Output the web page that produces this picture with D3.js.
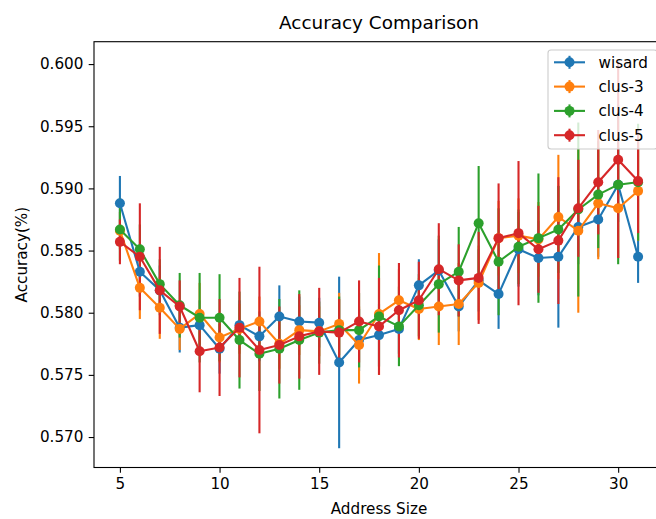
<!DOCTYPE html>
<html>
<head>
<meta charset="utf-8">
<script src="https://cdn.jsdelivr.net/npm/d3@7"></script>
<style>
  html, body { margin: 0; padding: 0; background: #ffffff; }
  svg { display: block; font-family: "DejaVu Sans", sans-serif; }
</style>
</head>
<body>
<svg id="chart" width="656" height="519"></svg>
<script>
// Address sizes on the x axis
const addressSizes = [5, 6, 7, 8, 9, 10, 11, 12, 13, 14, 15, 16, 17, 18, 19, 20,
                      21, 22, 23, 24, 25, 26, 27, 28, 29, 30, 31];

// Mean accuracy and standard deviation per model
const wisardMean = [0.5888, 0.5833, 0.5818, 0.5788, 0.5790, 0.5771, 0.5790, 0.5781, 0.5797,
                    0.5793, 0.5792, 0.5760, 0.5778, 0.5782, 0.5787, 0.5822, 0.5834, 0.5805,
                    0.5826, 0.5815, 0.5851, 0.5844, 0.5845, 0.5869, 0.5875, 0.5903, 0.5845];
const wisardErr  = [0.0022, 0.0020, 0.0020, 0.0020, 0.0020, 0.0020, 0.0020, 0.0020, 0.0025,
                    0.0020, 0.0020, 0.0069, 0.0025, 0.0025, 0.0020, 0.0021, 0.0025, 0.0020,
                    0.0025, 0.0028, 0.0030, 0.0030, 0.0057, 0.0030, 0.0030, 0.0030, 0.0021];

const clus3Mean = [0.5866, 0.5820, 0.5804, 0.5787, 0.5799, 0.5780, 0.5787, 0.5793, 0.5775,
                   0.5786, 0.5785, 0.5791, 0.5774, 0.5799, 0.5810, 0.5803, 0.5805, 0.5807,
                   0.5824, 0.5860, 0.5862, 0.5859, 0.5877, 0.5866, 0.5888, 0.5884, 0.5898];
const clus3Err  = [0.0015, 0.0025, 0.0025, 0.0017, 0.0025, 0.0020, 0.0020, 0.0020, 0.0020,
                   0.0020, 0.0020, 0.0025, 0.0031, 0.0049, 0.0025, 0.0025, 0.0031, 0.0033,
                   0.0030, 0.0030, 0.0030, 0.0030, 0.0050, 0.0066, 0.0045, 0.0040, 0.0040];

const clus4Mean = [0.5867, 0.5851, 0.5823, 0.5806, 0.5796, 0.5796, 0.5778, 0.5767, 0.5771,
                   0.5778, 0.5784, 0.5786, 0.5786, 0.5797, 0.5789, 0.5806, 0.5823, 0.5833,
                   0.5872, 0.5841, 0.5853, 0.5860, 0.5867, 0.5883, 0.5895, 0.5903, 0.5905];
const clus4Err  = [0.0025, 0.0020, 0.0020, 0.0026, 0.0036, 0.0035, 0.0039, 0.0030, 0.0040,
                   0.0040, 0.0025, 0.0027, 0.0030, 0.0041, 0.0032, 0.0025, 0.0039, 0.0036,
                   0.0046, 0.0043, 0.0030, 0.0052, 0.0035, 0.0070, 0.0043, 0.0064, 0.0047];

const clus5Mean = [0.5857, 0.5845, 0.5818, 0.5805, 0.5769, 0.5772, 0.5788, 0.5770, 0.5774,
                   0.5781, 0.5785, 0.5784, 0.5793, 0.5789, 0.5802, 0.5810, 0.5835, 0.5826,
                   0.5828, 0.5860, 0.5864, 0.5851, 0.5858, 0.5884, 0.5905, 0.5923, 0.5906];
const clus5Err  = [0.0018, 0.0043, 0.0035, 0.0021, 0.0033, 0.0039, 0.0040, 0.0067, 0.0031,
                   0.0034, 0.0035, 0.0027, 0.0033, 0.0039, 0.0038, 0.0031, 0.0037, 0.0029,
                   0.0037, 0.0044, 0.0058, 0.0035, 0.0051, 0.0039, 0.0042, 0.0079, 0.0042];

const seriesNames  = ["wisard", "clus-3", "clus-4", "clus-5"];
const seriesColors = ["#1f77b4", "#ff7f0e", "#2ca02c", "#d62728"];

const xTicks = [5, 10, 15, 20, 25, 30];
const yTicks = [0.570, 0.575, 0.580, 0.585, 0.590, 0.595, 0.600];
const xLimits = [3.7, 32.3];
const yLimits = [0.56755, 0.60180];

const titleText = "Accuracy Comparison";
const xLabelText = "Address Size";
const yLabelText = "Accuracy(%)";

// ---------------------------------------------------------------------------
const series = [
  { name: seriesNames[0], color: seriesColors[0], mean: wisardMean, err: wisardErr },
  { name: seriesNames[1], color: seriesColors[1], mean: clus3Mean,  err: clus3Err },
  { name: seriesNames[2], color: seriesColors[2], mean: clus4Mean,  err: clus4Err },
  { name: seriesNames[3], color: seriesColors[3], mean: clus5Mean,  err: clus5Err }
].map(s => ({ ...s, points: addressSizes.map((a, i) => ({ a, m: s.mean[i], e: s.err[i] })) }));

const plot = { left: 94, right: 664, top: 41.7, bottom: 467.5 };
const fontSize = 15.2;
const lineW = 2.1;
const markerR = 5;

const svg = d3.select("#chart");

const x = d3.scaleLinear().domain(xLimits).range([plot.left, plot.right]);
const y = d3.scaleLinear().domain(yLimits).range([plot.bottom, plot.top]);

// error bars sit beneath every data line
const bars = svg.append("g").attr("class", "errorbars");
series.forEach(s => {
  bars.append("g")
    .selectAll("line")
    .data(s.points)
    .join("line")
    .attr("x1", d => x(d.a)).attr("x2", d => x(d.a))
    .attr("y1", d => y(d.m - d.e)).attr("y2", d => y(d.m + d.e))
    .attr("stroke", s.color)
    .attr("stroke-width", lineW);
});

// data lines with circle markers
const lineGen = d3.line().x(d => x(d.a)).y(d => y(d.m));
const lines = svg.append("g").attr("class", "series");
series.forEach(s => {
  const g = lines.append("g");
  g.append("path")
    .attr("d", lineGen(s.points))
    .attr("fill", "none")
    .attr("stroke", s.color)
    .attr("stroke-width", lineW)
    .attr("stroke-linejoin", "round")
    .attr("stroke-linecap", "square");
  g.selectAll("circle")
    .data(s.points)
    .join("circle")
    .attr("cx", d => x(d.a))
    .attr("cy", d => y(d.m))
    .attr("r", markerR)
    .attr("fill", s.color);
});

// axes
const tickLen = 5.3, tickPad = 5.3;
const xAxis = svg.append("g")
  .attr("transform", `translate(0,${plot.bottom})`)
  .call(d3.axisBottom(x).tickValues(xTicks).tickFormat(d3.format("d"))
        .tickSize(tickLen).tickPadding(tickPad));
const yAxis = svg.append("g")
  .attr("transform", `translate(${plot.left},0)`)
  .call(d3.axisLeft(y).tickValues(yTicks).tickFormat(d3.format(".3f"))
        .tickSize(tickLen).tickPadding(tickPad));
[xAxis, yAxis].forEach(ax => {
  ax.select(".domain").remove();
  ax.selectAll(".tick line").attr("stroke", "#000").attr("stroke-width", 1.1);
  ax.selectAll(".tick text")
    .attr("fill", "#000")
    .style("font-family", "DejaVu Sans, sans-serif")
    .style("font-size", fontSize + "px");
});

// plot frame
svg.append("rect")
  .attr("x", plot.left).attr("y", plot.top)
  .attr("width", plot.right - plot.left).attr("height", plot.bottom - plot.top)
  .attr("fill", "none").attr("stroke", "#000").attr("stroke-width", 1.1);

// title and axis labels
const cx = (plot.left + plot.right) / 2;
svg.append("text")
  .attr("x", cx).attr("y", 28.5)
  .attr("text-anchor", "middle")
  .style("font-size", "18.4px")
  .text(titleText);
svg.append("text")
  .attr("x", cx).attr("y", 513.5)
  .attr("text-anchor", "middle")
  .style("font-size", fontSize + "px")
  .text(xLabelText);
svg.append("text")
  .attr("transform", `translate(27,${(plot.top + plot.bottom) / 2}) rotate(-90)`)
  .attr("text-anchor", "middle")
  .style("font-size", fontSize + "px")
  .text(yLabelText);

// legend
const legend = svg.append("g").attr("class", "legend");
const lg = { x: 548, y: 50, w: 109, h: 99, row0: 62.3, rowStep: 24.3 };
legend.append("rect")
  .attr("x", lg.x).attr("y", lg.y).attr("width", lg.w).attr("height", lg.h)
  .attr("rx", 3).attr("ry", 3)
  .attr("fill", "#ffffff").attr("fill-opacity", 0.8)
  .attr("stroke", "#cccccc").attr("stroke-width", 1.1);
const hx0 = 554, hx1 = 585, hcx = (hx0 + hx1) / 2;
series.forEach((s, i) => {
  const ry = lg.row0 + i * lg.rowStep;
  const item = legend.append("g");
  item.append("line")
    .attr("x1", hcx).attr("x2", hcx).attr("y1", ry - 6.5).attr("y2", ry + 6.5)
    .attr("stroke", s.color).attr("stroke-width", lineW);
  item.append("line")
    .attr("x1", hx0).attr("x2", hx1).attr("y1", ry).attr("y2", ry)
    .attr("stroke", s.color).attr("stroke-width", lineW);
  item.append("circle")
    .attr("cx", hcx).attr("cy", ry).attr("r", markerR).attr("fill", s.color);
  item.append("text")
    .attr("x", 598.5).attr("y", ry + 5.5)
    .style("font-size", fontSize + "px")
    .text(s.name);
});
</script>
</body>
</html>
